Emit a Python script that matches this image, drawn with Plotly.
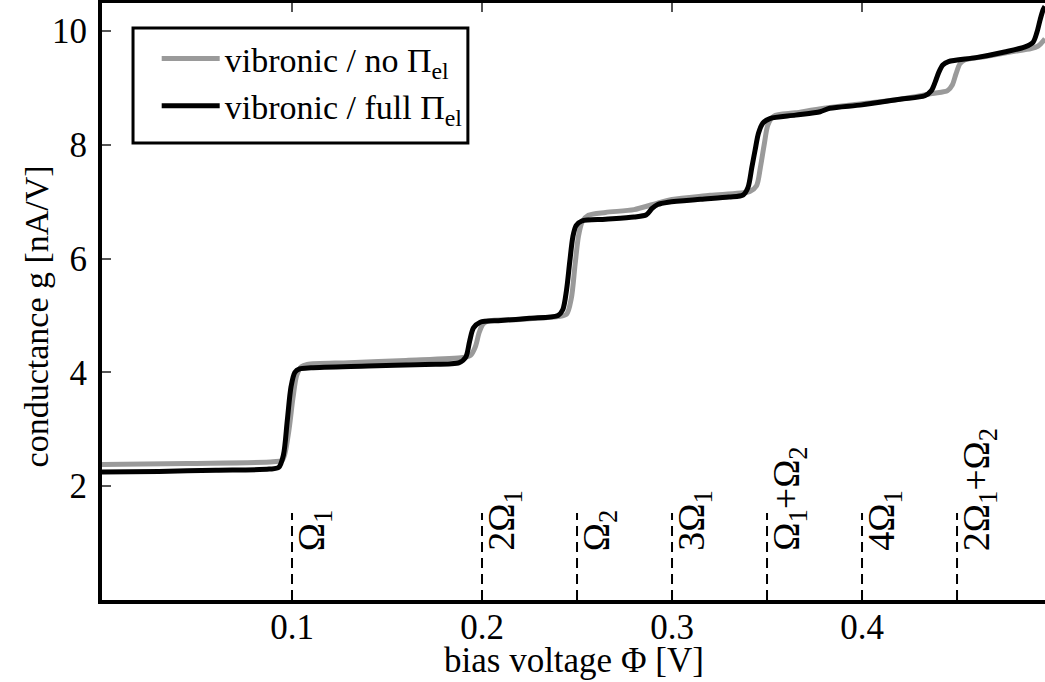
import plotly.graph_objects as go

# Conductance vs. bias: vibronic model without the electronic self-energy Pi_el
phi_no = [0.000, 0.045, 0.090, 0.095, 0.098, 0.1005, 0.1025, 0.105, 0.108, 0.130,
          0.160, 0.190, 0.194, 0.1965, 0.1985, 0.2005, 0.203, 0.220, 0.240, 0.2445,
          0.2470, 0.2490, 0.2508, 0.2528, 0.256, 0.265, 0.280, 0.290, 0.300, 0.320,
          0.341, 0.3445, 0.3465, 0.3485, 0.3505, 0.3535, 0.365, 0.380, 0.400, 0.420,
          0.437, 0.445, 0.4475, 0.4495, 0.4515, 0.454, 0.465, 0.478, 0.489, 0.4925,
          0.4945, 0.4963]
g_no = [2.38, 2.40, 2.43, 2.46, 2.90, 3.55, 3.95, 4.10, 4.14, 4.17,
        4.21, 4.26, 4.30, 4.45, 4.70, 4.85, 4.90, 4.93, 4.98, 5.02,
        5.30, 5.90, 6.40, 6.65, 6.76, 6.81, 6.86, 6.95, 7.04, 7.11,
        7.18, 7.28, 7.60, 8.00, 8.35, 8.50, 8.56, 8.64, 8.72, 8.80,
        8.90, 8.95, 9.05, 9.25, 9.42, 9.49, 9.55, 9.63, 9.69, 9.73,
        9.79, 9.86]

# Same model with the full electronic self-energy Pi_el
phi_full = [0.000, 0.030, 0.060, 0.088, 0.093, 0.0955, 0.0975, 0.0995, 0.1015, 0.104,
            0.110, 0.140, 0.170, 0.188, 0.1915, 0.1935, 0.1955, 0.199, 0.210, 0.225,
            0.240, 0.2425, 0.2445, 0.2462, 0.2478, 0.2495, 0.2525, 0.265, 0.280, 0.2865,
            0.2895, 0.2925, 0.298, 0.315, 0.330, 0.3375, 0.3400, 0.3420, 0.3437, 0.3455,
            0.3478, 0.3515, 0.365, 0.378, 0.383, 0.400, 0.420, 0.433, 0.4365, 0.4385,
            0.4405, 0.4425, 0.4455, 0.460, 0.475, 0.4858, 0.4900, 0.4921, 0.4937, 0.4953,
            0.4963]
g_full = [2.25, 2.26, 2.28, 2.30, 2.33, 2.55, 3.15, 3.75, 4.00, 4.06,
          4.08, 4.11, 4.14, 4.17, 4.27, 4.55, 4.78, 4.88, 4.91, 4.95,
          5.00, 5.10, 5.45, 5.95, 6.38, 6.58, 6.66, 6.69, 6.73, 6.77,
          6.88, 6.95, 6.99, 7.04, 7.08, 7.12, 7.25, 7.60, 7.90, 8.20,
          8.38, 8.46, 8.52, 8.58, 8.64, 8.70, 8.80, 8.86, 8.95, 9.10,
          9.28, 9.40, 9.46, 9.53, 9.63, 9.72, 9.80, 9.98, 10.19, 10.37,
          10.43]

# Vibrational excitation thresholds
mode_phi = [0.10, 0.20, 0.25, 0.30, 0.35, 0.40, 0.45]
mode_labels = ["Ω<sub>1</sub>", "2Ω<sub>1</sub>", "Ω<sub>2</sub>", "3Ω<sub>1</sub>",
               "Ω<sub>1</sub>+Ω<sub>2</sub>", "4Ω<sub>1</sub>",
               "2Ω<sub>1</sub>+Ω<sub>2</sub>"]
mode_line_top = 1.53
mode_label_base = 0.82

x_ticks = [0.1, 0.2, 0.3, 0.4]
x_tick_text = ["0.1", "0.2", "0.3", "0.4"]
y_ticks = [2, 4, 6, 8, 10]
x_range = [0, 0.4963]
y_range = [0, 10.49]

SERIF = "Liberation Serif, Times New Roman, serif"

fig = go.Figure()
fig.add_trace(go.Scatter(
    x=phi_no, y=g_no, mode="lines", name="vibronic / no Π<sub>el</sub>",
    line=dict(color="#9a9a9a", width=5, shape="spline", smoothing=0.8),
))
fig.add_trace(go.Scatter(
    x=phi_full, y=g_full, mode="lines", name="vibronic / full Π<sub>el</sub>",
    line=dict(color="black", width=5, shape="spline", smoothing=0.8),
))

for xv, lab in zip(mode_phi, mode_labels):
    fig.add_shape(type="line", xref="x", yref="y", x0=xv, x1=xv, y0=0, y1=mode_line_top,
                  line=dict(color="black", width=2, dash="10px,6px"))
    fig.add_annotation(x=xv, y=mode_label_base, xref="x", yref="y", text=lab,
                       textangle=-90, showarrow=False, xanchor="center", yanchor="bottom",
                       xshift=22, font=dict(family=SERIF, size=38, color="black"))

# frame around the legend entries
fig.add_shape(type="rect", xref="paper", yref="paper",
              x0=0.0329, x1=0.388, y0=0.7655, y1=0.958,
              line=dict(color="black", width=3), fillcolor="rgba(0,0,0,0)", layer="above")

# axis titles
fig.add_annotation(text="bias voltage Φ [V]", x=0.5, y=-0.066, xref="paper", yref="paper",
                   xanchor="center", yanchor="top", showarrow=False,
                   font=dict(family=SERIF, size=35, color="black"))
fig.add_annotation(text="conductance g [nA/V]", x=-0.07, y=0.475, xref="paper", yref="paper",
                   xanchor="center", yanchor="middle", textangle=-90, showarrow=False,
                   font=dict(family=SERIF, size=34, color="black"))

fig.update_layout(
    width=1045, height=682,
    margin=dict(l=102, r=0, t=3, b=82),
    paper_bgcolor="white", plot_bgcolor="white",
    font=dict(family=SERIF, size=35, color="black"),
    legend=dict(x=0.058, y=0.955, xanchor="left", yanchor="top",
                borderwidth=0, bgcolor="rgba(0,0,0,0)",
                font=dict(family=SERIF, size=34, color="black"),
                itemwidth=58),
    xaxis=dict(range=x_range, tickvals=x_ticks, ticktext=x_tick_text,
               ticks="inside", ticklen=9, tickwidth=1.5, tickcolor="#555",
               showline=True, linewidth=4, linecolor="black", mirror="ticks",
               showgrid=False, zeroline=False, ticklabelstandoff=-7,
               tickfont=dict(family=SERIF, size=35, color="black")),
    yaxis=dict(range=y_range, tickvals=y_ticks,
               ticks="inside", ticklen=9, tickwidth=1.5, tickcolor="#555",
               showline=True, linewidth=4, linecolor="black", mirror=False,
               showgrid=False, zeroline=False, ticklabelstandoff=4,
               tickfont=dict(family=SERIF, size=35, color="black")),
    yaxis2=dict(range=y_range, tickvals=y_ticks, overlaying="y", side="right",
                ticks="inside", ticklen=9, tickwidth=1.5, tickcolor="#555",
                showticklabels=False, showline=False, showgrid=False, zeroline=False),
)

fig.write_html("out.html")
